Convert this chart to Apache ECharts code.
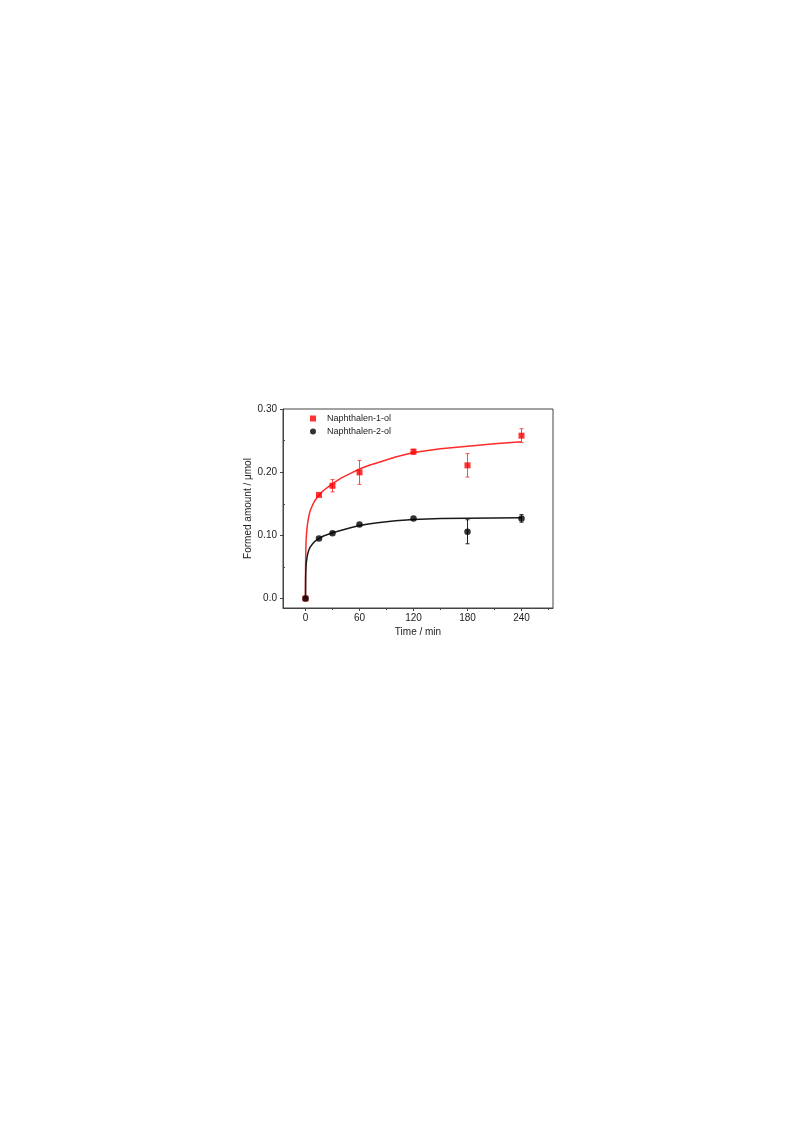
<!DOCTYPE html>
<html>
<head>
<meta charset="utf-8">
<script src="https://cdn.jsdelivr.net/npm/echarts@6/dist/echarts.min.js"></script>
<style>
html,body{margin:0;padding:0;background:#fff;}
#c{width:793px;height:1123px;}
</style>
</head>
<body>
<div id="c"></div>
<script>
// Data
var times = [0, 15, 30, 60, 120, 180, 240];
var naph1 = [0, 0.164, 0.1785, 0.1997, 0.2324, 0.2108, 0.2578];
var naph1Err = [0, 0.002, 0.0098, 0.019, 0.004, 0.0185, 0.011];
var naph2 = [0, 0.0951, 0.1035, 0.1173, 0.1268, 0.1057, 0.1268];
var naph2Err = [0, 0.002, 0.002, 0.002, 0.002, 0.019, 0.006];

// Fitted curves
var fitT  = [0, 0.1, 0.3, 0.6, 1, 1.7, 2.5, 3.5, 5, 7.5, 10, 15, 20, 30, 40, 50, 60, 70, 80, 100, 120, 150, 180, 210, 240];
var fit1Y = [0, 0.05, 0.075, 0.09, 0.1, 0.111, 0.121, 0.129, 0.138, 0.147, 0.154, 0.164, 0.171, 0.182, 0.191, 0.198, 0.205, 0.2105, 0.215, 0.224, 0.231, 0.237, 0.241, 0.245, 0.248];
var fit2Y = [0, 0.03, 0.043, 0.051, 0.058, 0.065, 0.071, 0.076, 0.081, 0.086, 0.090, 0.095, 0.099, 0.104, 0.108, 0.112, 0.1155, 0.118, 0.120, 0.123, 0.125, 0.1265, 0.1272, 0.1276, 0.128];

var yTicks = [0, 0.1, 0.2, 0.3];
var yMinor = [0.05, 0.15, 0.25];
var xTicks = [0, 60, 120, 180, 240];
var xMinor = [30, 90, 150, 210, 270];

function pairs(a, b) { return a.map(function (v, i) { return [v, b[i]]; }); }
function errRows(t, v, e) {
  var r = [];
  t.forEach(function (x, i) { if (e[i] > 0.003) r.push([x, v[i] - e[i], v[i] + e[i]]); });
  return r;
}
function errSeries(rows, color) {
  return {
    type: 'custom', xAxisIndex: 0, yAxisIndex: 0, silent: true, z: 3,
    data: rows,
    renderItem: function (params, api) {
      var lo = api.coord([api.value(0), api.value(1)]);
      var hi = api.coord([api.value(0), api.value(2)]);
      var w = 2;
      var st = { stroke: color, lineWidth: 1 };
      return { type: 'group', children: [
        { type: 'line', shape: { x1: lo[0], y1: lo[1], x2: hi[0], y2: hi[1] }, style: st },
        { type: 'line', shape: { x1: lo[0] - w, y1: lo[1], x2: lo[0] + w, y2: lo[1] }, style: st },
        { type: 'line', shape: { x1: hi[0] - w, y1: hi[1], x2: hi[0] + w, y2: hi[1] }, style: st }
      ]};
    }
  };
}

var FONT = '"Liberation Sans", Arial, sans-serif';
var AX = '#444';
var chart = echarts.init(document.getElementById('c'), null, { renderer: 'canvas' });
chart.setOption({
  animation: false,
  backgroundColor: '#fff',
  textStyle: { fontFamily: FONT },
  grid: { left: 283, right: 240, top: 409, bottom: 515, show: true, borderColor: AX, borderWidth: 1, backgroundColor: 'transparent' },
  legend: {
    data: ['Naphthalen-1-ol', 'Naphthalen-2-ol'],
    orient: 'vertical', left: 305, top: 409,
    itemWidth: 6, itemHeight: 6, itemGap: 4,
    textStyle: { fontSize: 9, color: '#222', fontFamily: FONT, padding: [0, 0, 0, 6] }
  },
  xAxis: [{
    type: 'value', min: -25, max: 275,
    name: 'Time / min', nameLocation: 'middle', nameGap: 19,
    nameTextStyle: { fontSize: 10, color: '#222', fontFamily: FONT },
    axisLine: { show: true, onZero: false, lineStyle: { color: AX, width: 1 } },
    axisTick: { show: true, customValues: xTicks, length: 3, lineStyle: { color: AX } },
    axisLabel: { customValues: xTicks, fontSize: 10, color: '#222', margin: 5, fontFamily: FONT },
    splitLine: { show: false }
  }, {
    type: 'value', min: -25, max: 275, position: 'bottom',
    axisLine: { show: false, onZero: false },
    axisTick: { show: true, customValues: xMinor, length: 2, lineStyle: { color: AX } },
    axisLabel: { show: false },
    splitLine: { show: false }
  }],
  yAxis: [{
    type: 'value', min: -0.015, max: 0.30,
    name: 'Formed amount / μmol', nameLocation: 'middle', nameGap: 30,
    nameTextStyle: { fontSize: 10, color: '#222', fontFamily: FONT },
    axisLine: { show: true, onZero: false, lineStyle: { color: AX, width: 1 } },
    axisTick: { show: true, customValues: yTicks, length: 3, lineStyle: { color: AX } },
    axisLabel: { customValues: yTicks, fontSize: 10, color: '#222', margin: 6, fontFamily: FONT,
      formatter: function (v) { return v === 0 ? '0.0' : v.toFixed(2); } },
    splitLine: { show: false }
  }, {
    type: 'value', min: -0.015, max: 0.30, position: 'left',
    axisLine: { show: false, onZero: false },
    axisTick: { show: true, inside: true, customValues: yMinor, length: 2, lineStyle: { color: AX } },
    axisLabel: { show: false },
    splitLine: { show: false }
  }],
  series: [
    errSeries(errRows(times, naph1, naph1Err), '#ff4a4a'),
    {
      name: 'fit1', type: 'line', data: pairs(fitT, fit1Y), showSymbol: false,
      smooth: false, z: 2, silent: true,
      lineStyle: { color: '#ff2a2a', width: 1.5, join: 'round' }
    },
    {
      name: 'Naphthalen-1-ol', type: 'scatter', data: pairs(times, naph1),
      symbol: 'rect', symbolSize: 6, z: 4,
      itemStyle: { color: '#ff0000' }
    },
    errSeries(errRows(times, naph2, naph2Err), '#222'),
    {
      name: 'fit2', type: 'line', data: pairs(fitT, fit2Y), showSymbol: false,
      smooth: false, z: 5, silent: true,
      lineStyle: { color: '#1a1a1a', width: 1.5, join: 'round' }
    },
    {
      name: 'Naphthalen-2-ol', type: 'scatter', data: pairs(times, naph2),
      symbol: 'circle', symbolSize: 6.5, z: 6,
      itemStyle: { color: '#000' }
    }
  ]
});
</script>
</body>
</html>
